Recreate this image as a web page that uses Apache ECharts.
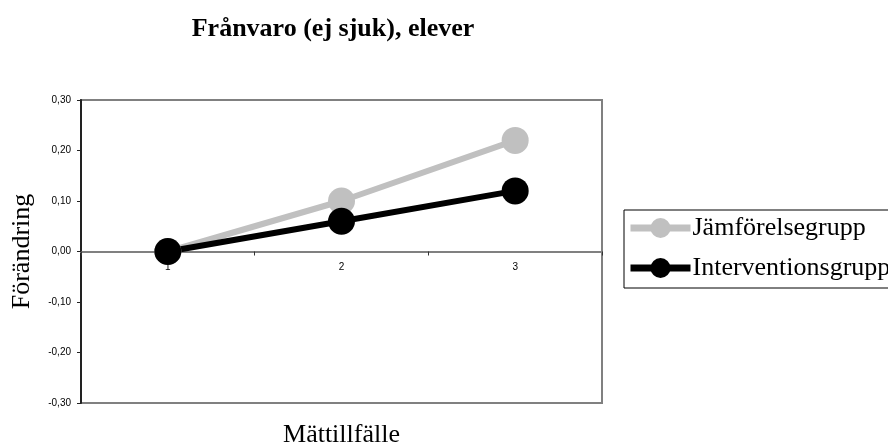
<!DOCTYPE html>
<html>
<head>
<meta charset="utf-8">
<script src="https://cdn.jsdelivr.net/npm/echarts@6/dist/echarts.min.js"></script>
<style>html,body{margin:0;padding:0;background:#fff;}#c{width:888px;height:446px;}</style>
</head>
<body>
<div id="c"></div>
<script>
const categories = ['1', '2', '3'];
const jamforelse = [0.00, 0.10, 0.22];
const intervention = [0.00, 0.06, 0.12];
const seriesNames = ['Jämförelsegrupp', 'Interventionsgrupp'];
const titleText = 'Frånvaro (ej sjuk), elever';
const xName = 'Mättillfälle';
const yName = 'Förändring';
const yMin = -0.3, yMax = 0.3, yStep = 0.1;

const serif = '"Liberation Serif", "Times New Roman", serif';
const sans = '"Liberation Sans", Arial, sans-serif';

const H = 446;
const gridTop = 100, gridBottom = 43;
const plotH = H - gridTop - gridBottom;
// move the category axis up to the y = 0 line
const zeroOffset = -plotH * (0 - yMin) / (yMax - yMin);

const chart = echarts.init(document.getElementById('c'));
chart.setOption({
  backgroundColor: '#fff',
  animation: false,
  title: {
    text: titleText,
    left: 333,
    textAlign: 'center',
    top: 16,
    padding: 0,
    textStyle: { fontFamily: serif, fontWeight: 'bold', fontSize: 26, color: '#000' }
  },
  legend: {
    orient: 'vertical',
    left: 624,
    top: 210,
    padding: [5, 40, 7, 3],
    itemGap: 14,
    itemWidth: 60,
    itemHeight: 25,
    borderColor: '#000',
    borderWidth: 1,
    backgroundColor: '#fff',
    data: seriesNames,
    lineStyle: { width: 7 },
    textStyle: { fontFamily: serif, fontSize: 26, color: '#000', lineHeight: 26, padding: [0, 0, 0, -3] }
  },
  grid: {
    left: 81, right: 286, top: gridTop, bottom: gridBottom,
    outerBoundsMode: 'none',
    containLabel: false,
    show: true, borderColor: '#808080', borderWidth: 2
  },
  xAxis: [{
    type: 'category',
    data: categories,
    boundaryGap: true,
    position: 'bottom',
    offset: zeroOffset,
    axisLine: { onZero: false, lineStyle: { color: '#808080', width: 2 } },
    axisTick: { show: true, length: 4, lineStyle: { color: '#333', width: 1 } },
    axisLabel: { fontFamily: sans, fontSize: 10, color: '#000', margin: 11 },
    splitLine: { show: false }
  }, {
    type: 'category',
    data: categories,
    position: 'bottom',
    axisLine: { show: false, onZero: false },
    axisTick: { show: false },
    axisLabel: { show: false },
    splitLine: { show: false },
    name: xName,
    nameLocation: 'middle',
    nameGap: 19,
    nameTextStyle: { fontFamily: serif, fontSize: 26, color: '#000' }
  }],
  yAxis: {
    type: 'value',
    min: yMin, max: yMax, interval: yStep,
    name: yName,
    nameLocation: 'middle',
    nameGap: 46,
    nameTextStyle: { fontFamily: serif, fontSize: 26, color: '#000' },
    axisLine: { show: true, lineStyle: { color: '#222', width: 2 } },
    axisTick: { show: true, length: 4, lineStyle: { color: '#222', width: 1 } },
    axisLabel: {
      fontFamily: sans, fontSize: 10, color: '#000', margin: 10,
      formatter: v => v.toFixed(2).replace('.', ',')
    },
    splitLine: { show: false }
  },
  series: [{
    name: seriesNames[0],
    type: 'line',
    data: jamforelse,
    symbol: 'circle',
    symbolSize: 27,
    itemStyle: { color: '#c0c0c0' },
    lineStyle: { color: '#c0c0c0', width: 6 }
  }, {
    name: seriesNames[1],
    type: 'line',
    data: intervention,
    symbol: 'circle',
    symbolSize: 27,
    itemStyle: { color: '#000' },
    lineStyle: { color: '#000', width: 6 }
  }]
});
</script>
</body>
</html>
